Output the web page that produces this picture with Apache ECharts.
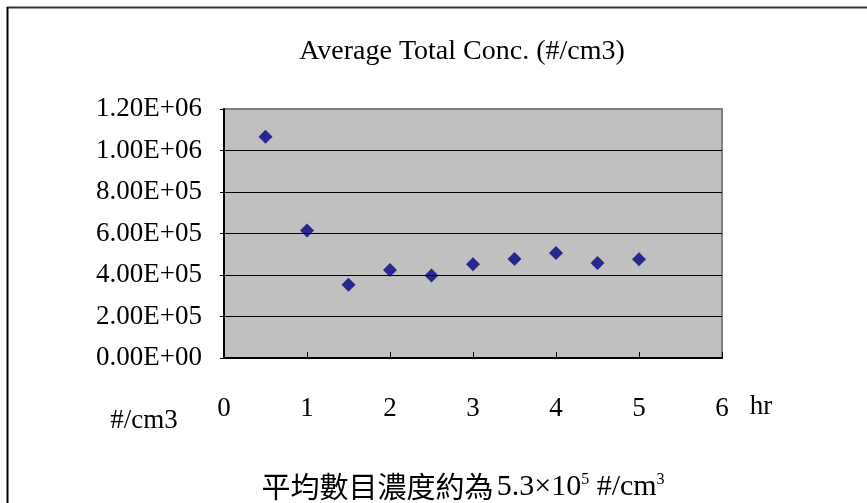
<!DOCTYPE html>
<html><head><meta charset="utf-8">
<script src="https://cdn.jsdelivr.net/npm/echarts@6/dist/echarts.min.js"></script>
<style>html,body{margin:0;padding:0;background:#fff}#c{width:867px;height:503px}</style>
</head><body><div id="c"></div>
<script>
const titleText = 'Average Total Conc. (#/cm3)';
const hours = [0.5, 1, 1.5, 2, 2.5, 3, 3.5, 4, 4.5, 5];
const conc = [1.066e6, 6.14e5, 3.53e5, 4.24e5, 3.97e5, 4.52e5, 4.77e5, 5.06e5, 4.58e5, 4.76e5];
const yMin = 0, yMax = 1.2e6, yStep = 2e5;
const xMin = 0, xMax = 6, xStep = 1;
const yUnit = '#/cm3';
const xUnit = 'hr';
const noteMain = '平均數目濃度約為';

function sci(v) {
  if (v === 0) return '0.00E+00';
  const e = Math.floor(Math.log10(Math.abs(v)) + 1e-9);
  const m = v / Math.pow(10, e);
  const es = (e < 0 ? '-' : '+') + String(Math.abs(e)).padStart(2, '0');
  return m.toFixed(2) + 'E' + es;
}

const serif = 'Liberation Serif';
const chart = echarts.init(document.getElementById('c'), null, {renderer: 'canvas'});
chart.setOption({
  animation: false,
  backgroundColor: '#ffffff',
  grid: {
    left: 224, right: 145, top: 109, bottom: 145,
    show: true, backgroundColor: '#C0C0C0', borderColor: '#808080', borderWidth: 2
  },
  xAxis: {
    type: 'value', min: xMin, max: xMax, interval: xStep,
    axisLine: {show: true, onZero: false, lineStyle: {color: '#000', width: 2}},
    axisTick: {show: true, inside: true, length: 6, lineStyle: {color: '#000', width: 1}},
    axisLabel: {color: '#000', fontFamily: serif, fontSize: 27, margin: 37},
    splitLine: {show: false}
  },
  yAxis: {
    type: 'value', min: yMin, max: yMax, interval: yStep,
    axisLine: {show: true, onZero: false, lineStyle: {color: '#000', width: 2}},
    axisTick: {show: true, inside: false, length: 4, lineStyle: {color: '#000', width: 1}},
    axisLabel: {color: '#000', fontFamily: serif, fontSize: 27, margin: 22, formatter: sci},
    splitLine: {show: true, lineStyle: {color: ['#000', '#000', '#000', '#000', '#000', '#000', '#808080'], width: 1}}
  },
  series: [{
    type: 'scatter',
    data: hours.map((h, i) => [h, conc[i]]),
    symbol: 'diamond', symbolSize: 14,
    itemStyle: {color: '#000080'}
  }],
  graphic: [
    {type: 'line', shape: {x1: 7, y1: 7.5, x2: 867, y2: 7.5}, style: {stroke: '#333', lineWidth: 2}},
    {type: 'line', shape: {x1: 7.5, y1: 7, x2: 7.5, y2: 503}, style: {stroke: '#000', lineWidth: 2}},
    {type: 'text', x: 462, y: 52, style: {text: titleText, font: '28px "Liberation Serif"', fill: '#000', textAlign: 'center', textVerticalAlign: 'middle'}},
    {type: 'text', x: 144, y: 421, style: {text: yUnit, font: '27px "Liberation Serif"', fill: '#000', textAlign: 'center', textVerticalAlign: 'middle'}},
    {type: 'text', x: 761, y: 407, style: {text: xUnit, font: '27px "Liberation Serif"', fill: '#000', textAlign: 'center', textVerticalAlign: 'middle'}},
    {type: 'text', x: 463, y: 487, style: {
      text: '{cjk|' + noteMain + '} {lat|5.3×10}{sup|5}{lat| #/cm}{sup|3}',
      textAlign: 'center', textVerticalAlign: 'middle',
      rich: {
        cjk: {fontFamily: 'Noto Sans CJK TC', fontSize: 29, color: '#000'},
        lat: {fontFamily: serif, fontSize: 30, color: '#000', verticalAlign: 'bottom'},
        sup: {fontFamily: serif, fontSize: 16, color: '#000', verticalAlign: 'top', padding: [0, 0, 12, 0]}
      }
    }}
  ]
});
</script></body></html>
